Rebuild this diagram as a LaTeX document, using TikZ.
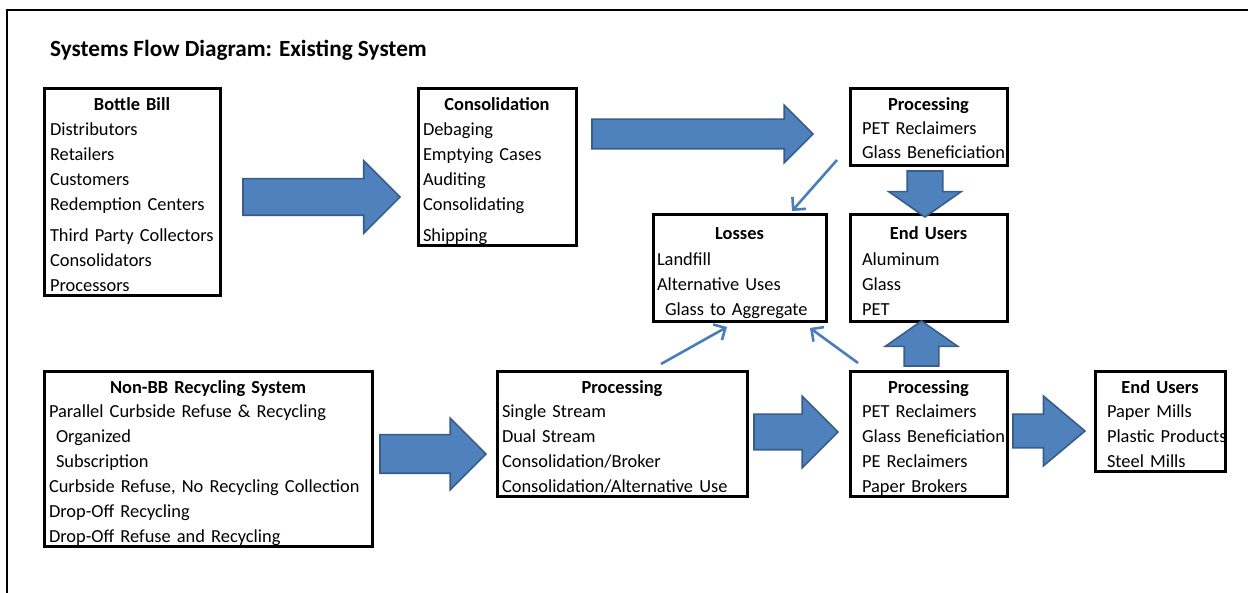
\documentclass[tikz,border=0pt]{standalone}
\usepackage{fontspec}
\setmainfont{Carlito}
\usetikzlibrary{shapes.arrows,arrows.meta,positioning}

\definecolor{arrowfill}{HTML}{4F81BD}
\definecolor{arrowedge}{HTML}{385D8A}
\definecolor{linkblue}{HTML}{4A7EBB}

\tikzset{
  box/.style={draw, line width=3pt, outer sep=0pt, inner ysep=0pt,
    text height=22pt, align=left, anchor=north west,
    font=\fontsize{18.4}{25}\selectfont},
  fat/.style={single arrow, draw=arrowedge, fill=arrowfill, line width=1.6pt,
    inner xsep=0pt, outer sep=0pt, anchor=tail},
  lossline/.style={draw=linkblue, line width=2.6pt,
    -{Straight Barb[length=9pt,width=18pt]}},
}
\newcommand{\boxhead}[1]{\makebox[\linewidth]{\bfseries #1}}

\begin{document}
\begin{tikzpicture}[x=1pt,y=1pt]
  \useasboundingbox (0,0) rectangle (1248,593);
  \draw[line width=2pt] (7,0) -- (7,583) -- (1248,583);
  \node[anchor=west, inner sep=0pt, font=\fontsize{23.2}{28}\selectfont\bfseries]
    (title) at (50,543) {Systems Flow Diagram: Existing System};

  % upper row
  \node[box, text width=164pt, inner xsep=6pt, text depth=185pt] (bb) at (44,504)
    {\boxhead{Bottle Bill}\\ Distributors\\ Retailers\\ Customers\\
     Redemption Centers\\[6pt] Third Party Collectors\\ Consolidators\\ Processors};
  \node[box, text width=148pt, inner xsep=5pt, text depth=135pt]
    (cons) [right=198pt of bb.north east, anchor=north west]
    {\boxhead{Consolidation}\\ Debaging\\ Emptying Cases\\ Auditing\\
     Consolidating\\[6pt] Shipping};
  \node[box, text width=133pt, inner xsep=12pt, text depth=55pt]
    (ptop) [right=274pt of cons.north east, anchor=north west]
    {\boxhead{Processing}\\[-1pt] PET Reclaimers\\[-1pt] \mbox{Glass Beneficiation}};
  \node[box, text width=133pt, inner xsep=12pt, text height=25pt, text depth=82pt]
    (eumid) [below=49pt of ptop.south west, anchor=north west]
    {\boxhead{End Users}\\[1pt] Aluminum\\ Glass\\ PET};
  \node[box, text width=165pt, inner xsep=4pt, text height=25pt, text depth=82pt]
    (loss) [left=24pt of eumid.north west, anchor=north east]
    {\boxhead{Losses}\\[1pt] Landfill\\ Alternative Uses\\ \hspace*{8pt}Glass to Aggregate};

  % lower row
  \node[box, text width=318pt, inner xsep=5pt, text depth=153pt]
    (nonbb) [below=76pt of bb.south west, anchor=north west]
    {\boxhead{Non-BB Recycling System}\\[-1pt] Parallel Curbside Refuse \& Recycling\\
     \hspace*{7pt}Organized\\ \hspace*{7pt}Subscription\\
     Curbside Refuse, No Recycling Collection\\ Drop-Off Recycling\\
     Drop-Off Refuse and Recycling};
  \node[box, text width=240pt, inner xsep=5pt, text depth=103pt]
    (procl) [right=125pt of nonbb.north east, anchor=north west]
    {\boxhead{Processing}\\[-1pt] Single Stream\\ Dual Stream\\
     Consolidation/Broker\\ Consolidation/Alternative Use};
  \node[box, text width=133pt, inner xsep=12pt, text depth=103pt]
    (procr) [right=103pt of procl.north east, anchor=north west]
    {\boxhead{Processing}\\[-1pt] PET Reclaimers\\ \mbox{Glass Beneficiation}\\
     PE Reclaimers\\ Paper Brokers};
  \node[box, text width=106pt, inner xsep=12pt, text depth=78pt]
    (euright) [right=88pt of procr.north east, anchor=north west]
    {\boxhead{End Users}\\[-1pt] Paper Mills\\ \mbox{Plastic Products}\\ Steel Mills};

  % block arrows
  \node[fat, minimum height=157pt, inner ysep=17.5pt, single arrow head extend=18pt]
    (bb-cons) at ([xshift=23pt,yshift=-4.5pt]bb.east) {};
  \node[fat, minimum height=221pt, inner ysep=14pt, single arrow head extend=14pt]
    (cons-ptop) at ([xshift=-258pt,yshift=-6.5pt]ptop.west) {};
  \node[fat, minimum height=46pt, inner ysep=17pt, single arrow head extend=18.5pt,
    single arrow tip angle=110, rotate=-90]
    (ptop-eumid) at ([xshift=-3.5pt,yshift=-5pt]ptop.south) {};
  \node[fat, minimum height=45pt, inner ysep=16.5pt, single arrow head extend=19pt,
    single arrow tip angle=110, rotate=90]
    (procr-eumid) at ([xshift=-7pt,yshift=6pt]procr.north) {};
  \node[fat, minimum height=106pt, inner ysep=18.5pt, single arrow head extend=16.5pt]
    (nonbb-procl) at ([xshift=8pt,yshift=5.5pt]nonbb.east) {};
  \node[fat, minimum height=84pt, inner ysep=17pt, single arrow head extend=18pt]
    (procl-procr) at ([xshift=7pt,yshift=2.5pt]procl.east) {};
  \node[fat, minimum height=72pt, inner ysep=16pt, single arrow head extend=18pt,
    single arrow tip angle=80]
    (procr-euright) at ([xshift=6pt,yshift=3.5pt]procr.east) {};

  % thin arrows to losses
  \draw[lossline] ([xshift=-13pt,yshift=6pt]ptop.south west)
    -- ([xshift=-34pt,yshift=4pt]loss.north east);
  \draw[lossline] ([xshift=164pt,yshift=8pt]procl.north west)
    -- ([xshift=74pt,yshift=-5pt]loss.south west);
  \draw[lossline] ([xshift=8pt,yshift=9pt]procr.north west)
    -- ([xshift=-16pt,yshift=-6pt]loss.south east);
\end{tikzpicture}
\end{document}
